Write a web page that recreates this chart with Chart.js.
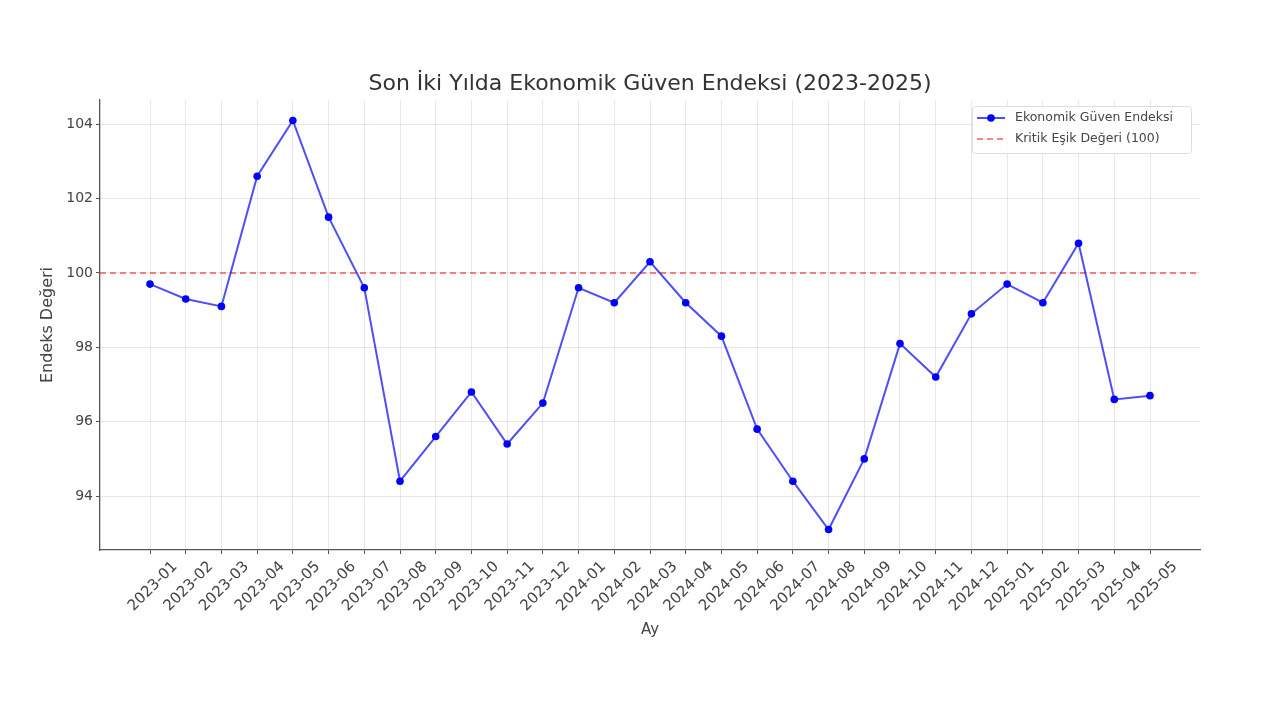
<!DOCTYPE html>
<html>
<head>
<meta charset="utf-8">
<script src="https://cdn.jsdelivr.net/npm/chart.js@4.4.1/dist/chart.umd.min.js"></script>
<style>
  html, body { margin: 0; padding: 0; background: #ffffff; }
  #wrap { width: 1280px; height: 720px; }
</style>
</head>
<body>
<div id="wrap"><canvas id="chart" width="1280" height="720"></canvas></div>
<script>
const months = ['2023-01', '2023-02', '2023-03', '2023-04', '2023-05', '2023-06', '2023-07', '2023-08',
    '2023-09', '2023-10', '2023-11', '2023-12', '2024-01', '2024-02', '2024-03', '2024-04', '2024-05',
    '2024-06', '2024-07', '2024-08', '2024-09', '2024-10', '2024-11', '2024-12', '2025-01', '2025-02',
    '2025-03', '2025-04', '2025-05'];
const indexValues = [99.7, 99.3, 99.1, 102.6, 104.1, 101.5, 99.6, 94.4, 95.6, 96.8, 95.4, 96.5, 99.6,
    99.2, 100.3, 99.2, 98.3, 95.8, 94.4, 93.1, 95.0, 98.1, 97.2, 98.9, 99.7, 99.2, 100.8, 96.6, 96.7];
const threshold = 100;
const yTicks = [94, 96, 98, 100, 102, 104];

const TITLE = 'Son İki Yılda Ekonomik Güven Endeksi (2023-2025)';
const FONT = 'DejaVu Sans, sans-serif';
const TEXT = '#444444';

// matplotlib style margins: 5% of the data range on each side
const xMin = -0.05 * (months.length - 1);
const xMax = (months.length - 1) * 1.05;
const yLo = Math.min(...indexValues), yHi = Math.max(...indexValues);
const yMin = yLo - 0.05 * (yHi - yLo);
const yMax = yHi + 0.05 * (yHi - yLo);

// title centred over the plot area, not the whole canvas
const plotTitle = {
    id: 'plotTitle',
    afterDraw(chart) {
        const { ctx, chartArea } = chart;
        ctx.save();
        ctx.font = '22px ' + FONT;
        ctx.fillStyle = '#333333';
        ctx.textAlign = 'center';
        ctx.textBaseline = 'middle';
        ctx.fillText(TITLE, (chartArea.left + chartArea.right) / 2, chartArea.top - 16);
        ctx.restore();
    }
};

// legend drawn inside the plot, upper right, like plt.legend()
const legendBox = {
    id: 'legendBox',
    afterDraw(chart) {
        const { ctx, chartArea } = chart;
        const sets = chart.data.datasets;
        const w = 219, h = 47;
        const x = chartArea.right - w - 9, y = chartArea.top + 6;
        ctx.save();
        ctx.fillStyle = 'rgba(255,255,255,0.85)';
        ctx.strokeStyle = '#dddddd';
        ctx.lineWidth = 1;
        ctx.beginPath();
        ctx.roundRect(x + 0.5, y + 0.5, w, h, 3);
        ctx.fill();
        ctx.stroke();
        ctx.font = '12.5px ' + FONT;
        ctx.textBaseline = 'middle';
        sets.forEach((ds, i) => {
            const ly = y + 12 + i * 21;
            ctx.strokeStyle = ds.borderColor;
            ctx.lineWidth = ds.borderWidth;
            ctx.setLineDash(ds.borderDash || []);
            ctx.beginPath();
            ctx.moveTo(x + 5, ly);
            ctx.lineTo(x + 33, ly);
            ctx.stroke();
            ctx.setLineDash([]);
            if (ds.pointRadius) {
                ctx.fillStyle = ds.pointBackgroundColor;
                ctx.beginPath();
                ctx.arc(x + 19, ly, ds.pointRadius, 0, Math.PI * 2);
                ctx.fill();
            }
            ctx.fillStyle = TEXT;
            ctx.fillText(ds.label, x + 43, ly);
        });
        ctx.restore();
    }
};

new Chart(document.getElementById('chart'), {
    type: 'line',
    data: {
        datasets: [{
            label: 'Ekonomik Güven Endeksi',
            data: indexValues.map((v, i) => ({ x: i, y: v })),
            borderColor: 'rgba(20, 20, 240, 0.75)',
            backgroundColor: '#0000ff',
            pointBackgroundColor: '#0000ff',
            pointBorderWidth: 0,
            borderWidth: 2,
            pointRadius: 3.8,
            tension: 0
        }, {
            label: 'Kritik Eşik Değeri (100)',
            data: [{ x: xMin, y: threshold }, { x: xMax, y: threshold }],
            borderColor: 'rgba(240, 40, 40, 0.75)',
            borderDash: [6, 4],
            borderWidth: 1.6,
            pointRadius: 0
        }]
    },
    options: {
        responsive: false,
        animation: false,
        layout: { padding: { left: 38, right: 80, top: 100, bottom: 81 } },
        plugins: {
            legend: { display: false },
            tooltip: { enabled: false },
            title: { display: false }
        },
        scales: {
            x: {
                type: 'linear',
                min: xMin,
                max: xMax,
                afterBuildTicks: s => { s.ticks = months.map((_, i) => ({ value: i })); },
                afterFit: s => { s.height = 89; },
                ticks: {
                    color: TEXT,
                    font: { family: FONT, size: 15 },
                    maxRotation: 45,
                    minRotation: 45,
                    padding: 4,
                    labelOffset: 25,
                    autoSkip: false,
                    callback: v => months[v]
                },
                grid: { color: 'rgba(0,0,0,0.09)', tickColor: '#555555', tickLength: 4 },
                border: { color: '#555555', width: 1.3 },
                title: {
                    display: true,
                    text: 'Ay',
                    color: TEXT,
                    font: { family: FONT, size: 15 },
                    padding: { top: 0, bottom: 0 }
                }
            },
            y: {
                min: yMin,
                max: yMax,
                afterBuildTicks: s => { s.ticks = yTicks.map(v => ({ value: v })); },
                afterFit: s => { s.width = 62; },
                ticks: {
                    color: TEXT,
                    font: { family: FONT, size: 14 },
                    padding: 3
                },
                grid: { color: 'rgba(0,0,0,0.09)', tickColor: '#555555', tickLength: 4 },
                border: { color: '#555555', width: 1.3 },
                title: {
                    display: true,
                    text: 'Endeks Değeri',
                    color: TEXT,
                    font: { family: FONT, size: 16 },
                    padding: { top: 0, bottom: 0 }
                }
            }
        }
    },
    plugins: [plotTitle, legendBox]
});
</script>
</body>
</html>
